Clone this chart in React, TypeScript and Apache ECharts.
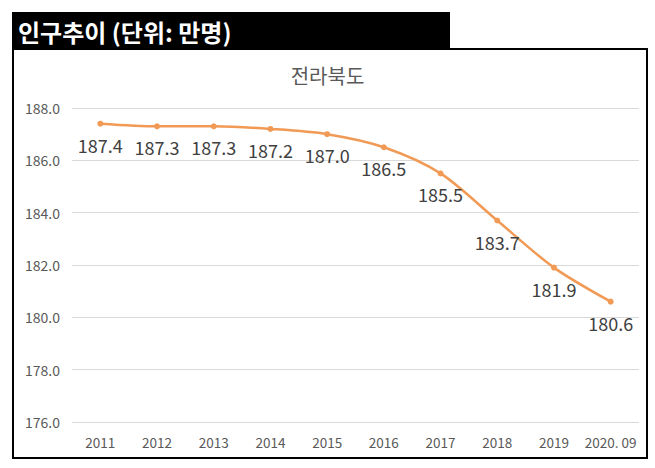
import { useEffect, useRef } from 'react'
import * as echarts from 'echarts'

const years = ['2011', '2012', '2013', '2014', '2015', '2016', '2017', '2018', '2019', '2020. 09']
const population = [187.4, 187.3, 187.3, 187.2, 187.0, 186.5, 185.5, 183.7, 181.9, 180.6]

const FONT = '"Noto Sans CJK KR", "Noto Sans", sans-serif'

export default function App() {
  const chartRef = useRef<HTMLDivElement>(null)

  useEffect(() => {
    if (!chartRef.current) return
    const chart = echarts.init(chartRef.current, null, { renderer: 'svg' })

    chart.setOption({
      animation: false,
      backgroundColor: '#fff',
      textStyle: { fontFamily: FONT },
      title: {
        text: '전라북도',
        left: 'center',
        top: 60,
        textStyle: { fontSize: 20, fontWeight: 'normal', color: '#595959', fontFamily: FONT },
      },
      graphic: [
        {
          type: 'rect',
          shape: { x: 12, y: 12, width: 438, height: 37 },
          style: { fill: '#000' },
        },
        {
          type: 'text',
          x: 18,
          y: 31,
          style: {
            text: '인구추이 (단위: 만명)',
            fill: '#fff',
            font: `bold 24px ${FONT}`,
            textVerticalAlign: 'middle',
          },
        },
        {
          type: 'rect',
          shape: { x: 13, y: 49, width: 634, height: 409 },
          style: { fill: 'none', stroke: '#000', lineWidth: 2 },
        },
      ],
      grid: { left: 72, right: 16, top: 108, bottom: 46 },
      xAxis: {
        type: 'category',
        data: years,
        boundaryGap: true,
        axisLine: { show: false },
        axisTick: { show: false },
        axisLabel: { color: '#595959', fontSize: 13.5, margin: 13, interval: 0, fontFamily: FONT },
      },
      yAxis: {
        type: 'value',
        min: 176,
        max: 188,
        interval: 2,
        axisLine: { show: false },
        axisTick: { show: false },
        splitLine: { lineStyle: { color: '#D9D9D9' } },
        axisLabel: {
          color: '#595959',
          fontSize: 14,
          margin: 12,
          fontFamily: FONT,
          formatter: (v: number) => v.toFixed(1),
        },
      },
      series: [
        {
          type: 'line',
          data: population,
          smooth: 0.3,
          symbol: 'circle',
          symbolSize: 6,
          lineStyle: { color: '#F19A56', width: 2.5 },
          itemStyle: { color: '#F19A56' },
          label: {
            show: true,
            position: 'bottom',
            distance: 9,
            fontSize: 18,
            color: '#404040',
            fontFamily: FONT,
            formatter: (p: any) => p.value.toFixed(1),
          },
        },
      ],
    })

    return () => {
      chart.dispose()
    }
  }, [])

  return (
    <div
      ref={chartRef}
      style={{ position: 'fixed', left: 0, top: 0, width: '655px', height: '468px' }}
    />
  )
}
